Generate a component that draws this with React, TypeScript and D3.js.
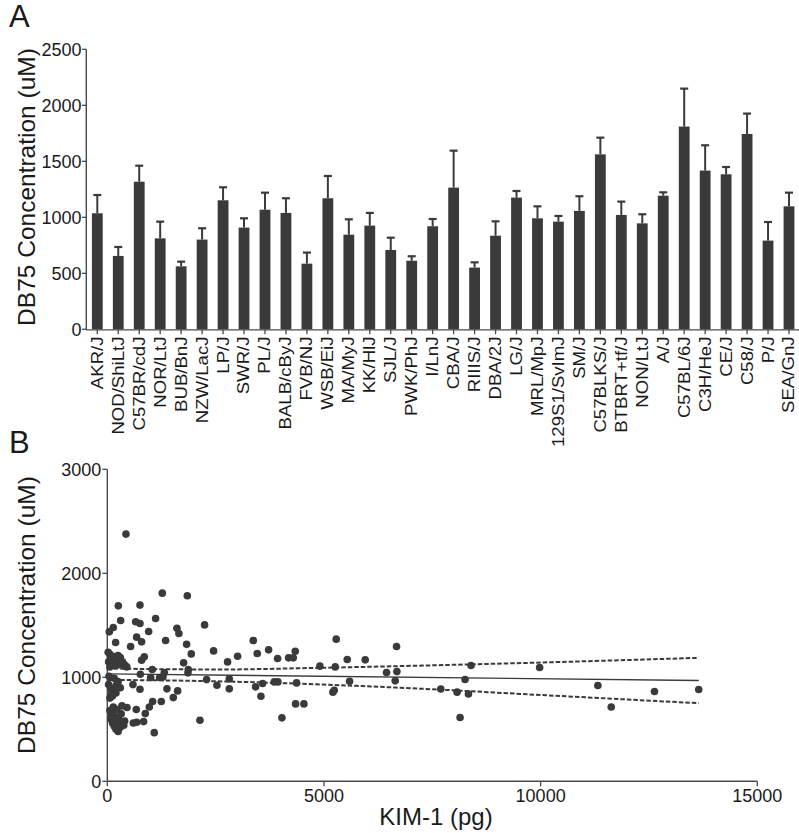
import React from "react";
import * as d3 from "d3";

const strains = [
  "AKR/J", "NOD/ShiLtJ", "C57BR/cdJ", "NOR/LtJ", "BUB/BnJ", "NZW/LacJ", "LP/J", "SWR/J",
  "PL/J", "BALB/cByJ", "FVB/NJ", "WSB/EiJ", "MA/MyJ", "KK/HlJ", "SJL/J", "PWK/PhJ",
  "I/LnJ", "CBA/J", "RIIIS/J", "DBA/2J", "LG/J", "MRL/MpJ", "129S1/SvImJ", "SM/J",
  "C57BLKS/J", "BTBRT+tf/J", "NON/LtJ", "A/J", "C57BL/6J", "C3H/HeJ", "CE/J", "C58/J",
  "P/J", "SEA/GnJ",
];
const means = [
  1036, 655, 1318, 812, 562, 801, 1152, 908, 1068, 1039, 586, 1170, 845, 926, 708, 612,
  920, 1265, 551, 836, 1176, 991, 961, 1057, 1562, 1021, 946, 1193, 1810, 1417, 1384, 1744,
  792, 1098,
];
const errTops = [
  1199, 735, 1461, 961, 604, 902, 1268, 991, 1220, 1170, 685, 1369, 982, 1039, 818, 652,
  985, 1595, 598, 964, 1235, 1098, 1012, 1188, 1711, 1140, 1027, 1223, 2149, 1643, 1449, 1926,
  958, 1220,
];
const barTicks = [0, 500, 1000, 1500, 2000, 2500];

// Panel B scatter: [KIM-1 (pg), DB75 (uM)]
const kimValues = [
  431, 1269, 1846, 254, 754, 1115, 308, 654, 754, 2245, 138, 46, 1607, 1653, 954, 677,
  792, 192, 1346, 3368, 5283, 6675, 1830, 538, 2453, 1938, 3461, 3722, 4337, 3007, 854, 792,
  3930, 4184, 4291, 2776, 5537, 5952, 4906, 5260, 1761, 1869, 1861, 1315, 1038, 762, 1000, 1207,
  1284, 2292, 2815, 2530, 2815, 3853, 3937, 4368, 5206, 5237, 5591, 6644, 6444, 6683, 3422, 3584,
  3545, 4030, 4345, 4537, 2138, 1084, 1523, 1623, 1377, 1246, 1046, 969, 877, 838, 677, 600,
  669, 454, 338, 138, 754, 592,
  8394, 9977, 8256, 7696, 8072, 8334, 8141, 11321, 11629, 12627, 13648,
  20, 60, 100, 150, 200, 250, 300, 350, 400, 30, 120, 180, 450, 60, 280,
  30, 80, 150, 200, 250, 100, 300, 40, 160,
  120, 200, 60,
  80, 120, 160, 200, 250, 300, 350, 100, 180, 260, 320, 400, 220, 60, 140, 380, 280,
];
const db75Values = [
  2377, 1809, 1784, 1687, 1694, 1565, 1546, 1534, 1517, 1504, 1479, 1437, 1472, 1421, 1440, 1386,
  1341, 1334, 1354, 1354, 1367, 1296, 1318, 1296, 1254, 1225, 1229, 1264, 1251, 1203, 1197, 1165,
  1181, 1187, 1187, 1148, 1171, 1168, 1107, 1100, 1139, 1075, 1043, 1046, 1075, 1030, 998, 998,
  1004, 978, 985, 924, 889, 956, 956, 946, 857, 876, 962, 966, 1046, 1055, 908, 940,
  818, 610, 744, 744, 587, 468, 805, 869, 889, 767, 767, 715, 651, 574, 568, 561,
  690, 709, 725, 715, 885, 930,
  1114, 1094, 979, 888, 857, 840, 613, 921, 715, 863, 883,
  1240, 1220, 1180, 1200, 1160, 1210, 1190, 1150, 1120, 1150, 1130, 1110, 1100, 1100, 1120,
  930, 890, 870, 920, 960, 840, 900, 1010, 990,
  820, 850, 800,
  600, 560, 530, 500, 480, 520, 560, 640, 620, 600, 650, 580, 690, 680, 690, 540, 550,
];
const fitX = [0, 13650];
const fitY = [1033, 969];
const bandX = [0, 2500, 5000, 7500, 10000, 13650];
const bandUpper = [1085, 1075, 1092, 1115, 1142, 1187];
const bandLower = [975, 962, 930, 885, 830, 751];
const scatterYTicks = [0, 1000, 2000, 3000];
const scatterXTicks = [0, 5000, 10000, 15000];

const FONT = "'Liberation Sans', Arial, Helvetica, sans-serif";
const INK = "#3a3a3a";
const AXIS = "#4a4a4a";
const TEXT = "#1a1a1a";

export default function App() {
  // Panel A scales
  const xA = d3.scalePoint<string>().domain(strains).range([97.3, 789]);
  const yA = d3.scaleLinear().domain([0, 2500]).range([329.3, 49.3]);
  const barW = 10.8;
  const capW = 8;

  // Panel B scales
  const xB = d3.scaleLinear().domain([0, 15000]).range([107.3, 757.3]);
  const yB = d3.scaleLinear().domain([0, 3000]).range([781.3, 469.3]);

  const lineB = d3
    .line<[number, number]>()
    .x((d) => xB(d[0]))
    .y((d) => yB(d[1]));
  const curveB = d3
    .line<[number, number]>()
    .x((d) => xB(d[0]))
    .y((d) => yB(d[1]))
    .curve(d3.curveMonotoneX);

  const fitPts = fitX.map((x, i) => [x, fitY[i]] as [number, number]);
  const upPts = bandX.map((x, i) => [x, bandUpper[i]] as [number, number]);
  const loPts = bandX.map((x, i) => [x, bandLower[i]] as [number, number]);

  return (
    <div style={{ position: "absolute", left: 0, top: 0, width: 799, height: 833, background: "#fff" }}>
      <svg width={799} height={833} style={{ display: "block" }} fontFamily={FONT}>
        <rect x={0} y={0} width={799} height={833} fill="#fff" />

        {/* ---------- Panel A ---------- */}
        <text x={9} y={27} fontSize={31} fill={TEXT}>A</text>
        <text
          transform={`translate(34.5,187) rotate(-90)`}
          textAnchor="middle"
          fontSize={24.5}
          fill={TEXT}
        >
          DB75 Concentration (uM)
        </text>

        {/* y axis */}
        <line x1={86.3} x2={86.3} y1={yA(2500)} y2={yA(0) + 0.6} stroke={AXIS} strokeWidth={1.4} />
        {barTicks.map((t) => (
          <g key={"ta" + t}>
            <line x1={82} x2={86.3} y1={yA(t)} y2={yA(t)} stroke={AXIS} strokeWidth={1.3} />
            <text x={81.5} y={yA(t)} dy="0.36em" textAnchor="end" fontSize={18} fill={TEXT}>
              {t}
            </text>
          </g>
        ))}

        {/* bars */}
        {strains.map((s, i) => {
          const cx = xA(s) as number;
          return (
            <g key={s}>
              <line x1={cx} x2={cx} y1={yA(means[i])} y2={yA(errTops[i])} stroke={INK} strokeWidth={2} />
              <line
                x1={cx - capW / 2}
                x2={cx + capW / 2}
                y1={yA(errTops[i])}
                y2={yA(errTops[i])}
                stroke={INK}
                strokeWidth={2.2}
              />
              <rect
                x={cx - barW / 2}
                y={yA(means[i])}
                width={barW}
                height={yA(0) - yA(means[i])}
                fill={INK}
              />
            </g>
          );
        })}

        {/* x axis A */}
        <line x1={86.3} x2={799} y1={yA(0) + 0.6} y2={yA(0) + 0.6} stroke={AXIS} strokeWidth={1.4} />
        {strains.map((s) => {
          const cx = xA(s) as number;
          return (
            <g key={"l" + s}>
              <line x1={cx} x2={cx} y1={yA(0)} y2={yA(0) + 5} stroke={AXIS} strokeWidth={1.3} />
              <text
                transform={`matrix(0,-1,0.84,0,${cx},336.5)`}
                textAnchor="end"
                dy="0.35em"
                fontSize={18.6}
                fill={TEXT}
              >
                {s}
              </text>
            </g>
          );
        })}

        {/* ---------- Panel B ---------- */}
        <text x={9} y={453} fontSize={31} fill={TEXT}>B</text>
        <text
          transform={`translate(34.5,615) rotate(-90)`}
          textAnchor="middle"
          fontSize={24.5}
          fill={TEXT}
        >
          DB75 Concentration (uM)
        </text>
        <text x={436} y={825} textAnchor="middle" fontSize={24} fill={TEXT}>
          KIM-1 (pg)
        </text>

        {/* axes */}
        <line x1={xB(0)} x2={xB(0)} y1={yB(3000)} y2={yB(0)} stroke={AXIS} strokeWidth={1.4} />
        <line x1={xB(0)} x2={xB(15000)} y1={yB(0)} y2={yB(0)} stroke={AXIS} strokeWidth={1.4} />
        {scatterYTicks.map((t) => (
          <g key={"yb" + t}>
            <line x1={xB(0) - 5} x2={xB(0)} y1={yB(t)} y2={yB(t)} stroke={AXIS} strokeWidth={1.3} />
            <text x={xB(0) - 6} y={yB(t)} dy="0.36em" textAnchor="end" fontSize={18} fill={TEXT}>
              {t}
            </text>
          </g>
        ))}
        {scatterXTicks.map((t) => (
          <g key={"xb" + t}>
            <line x1={xB(t)} x2={xB(t)} y1={yB(0)} y2={yB(0) + 5} stroke={AXIS} strokeWidth={1.3} />
            <text x={xB(t)} y={801.5} textAnchor="middle" fontSize={18} fill={TEXT}>
              {t}
            </text>
          </g>
        ))}

        {/* points */}
        {kimValues.map((k, i) => (
          <circle key={"p" + i} cx={xB(k)} cy={yB(db75Values[i])} r={3.8} fill={INK} />
        ))}

        {/* regression + confidence band */}
        <path d={lineB(fitPts) || ""} fill="none" stroke={INK} strokeWidth={1.4} />
        <path
          d={curveB(upPts) || ""}
          fill="none"
          stroke={INK}
          strokeWidth={2}
          strokeDasharray="4.5,2"
        />
        <path
          d={curveB(loPts) || ""}
          fill="none"
          stroke={INK}
          strokeWidth={2}
          strokeDasharray="4.5,2"
        />
      </svg>
    </div>
  );
}
